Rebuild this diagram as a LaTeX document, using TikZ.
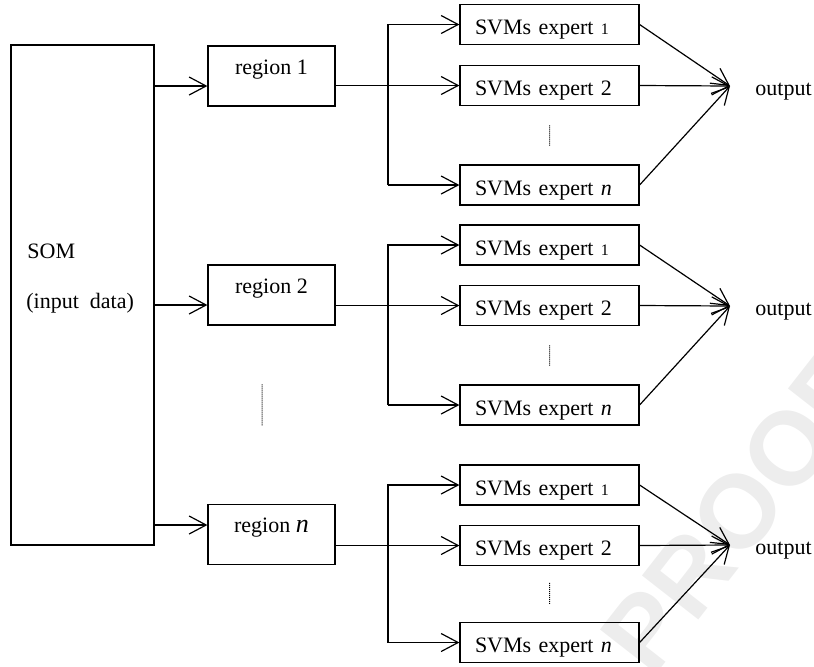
\documentclass[tikz,border=0pt]{standalone}
\usepackage{fontspec}
\setmainfont{Liberation Serif}
\newfontfamily\wmfont{Liberation Sans}
\usetikzlibrary{arrows.meta,positioning,calc}

\begin{document}
\begin{tikzpicture}[
  x=0.5pt, y=-0.5pt,
  font=\fontsize{11}{13}\selectfont,
  blk/.style={draw, line width=0.6pt, inner sep=0pt},
  region/.style={blk, minimum width=63.5pt, minimum height=30pt,
    text height=2pt, text depth=4pt},
  expert/.style={blk, minimum height=20pt, text width=74.5pt,
    inner xsep=7.5pt, align=left, text height=10pt, text depth=0pt},
  lbl/.style={anchor=base west, inner sep=0pt},
  arr/.style={-{Straight Barb[length=8.5pt, width=9pt]}, line width=0.6pt},
  vdots/.style={line width=0.5pt, dash pattern=on 0.5pt off 0.5pt},
  wmark/.style={font=\wmfont\bfseries\fontsize{52}{52}\selectfont,
    text=black!7, rotate=52, anchor=base west, inner sep=0pt}
]
\clip (0,0) rectangle (814,666);
\node[wmark] (proof) at (652,680) {PROOF};

% SOM block
\node[blk, minimum width=71.5pt, minimum height=250pt] (som) at (82.5,295) {};
\node[lbl] (somname) at (27,258) {SOM};
\node[lbl] (somdata) at (26,308) {(input~~data)};

% regions
\node[region] (reg1) at (271.5,76) {region 1};
\node[region] (reg2) at (271.5,295) {region 2};
\node[region] (regn) at (271.5,534.5) {region {\fontsize{13}{13}\selectfont\textit{n}}};

% experts
\node[expert] (ex11) at (549.5,24.5) {SVMs expert {\fontsize{8}{8}\selectfont 1}};
\node[expert] (ex12) at (549.5,85.5) {SVMs expert 2};
\node[expert] (ex1n) at (549.5,185) {SVMs expert \textit{n}};
\node[expert] (ex21) at (549.5,245) {SVMs expert {\fontsize{8}{8}\selectfont 1}};
\node[expert] (ex22) at (549.5,305.5) {SVMs expert 2};
\node[expert] (ex2n) at (549.5,405) {SVMs expert \textit{n}};
\node[expert] (exn1) at (549.5,485) {SVMs expert {\fontsize{8}{8}\selectfont 1}};
\node[expert] (exn2) at (549.5,545.5) {SVMs expert 2};
\node[expert] (exnn) at (549.5,642.5) {SVMs expert \textit{n}};

% outputs
\coordinate (cv1) at (730,86);
\coordinate (cv2) at (730,306);
\coordinate (cvn) at (730,545);
\node[lbl] (out1) at (755,95) {output};
\node[lbl] (out2) at (755,315) {output};
\node[lbl] (outn) at (755,554) {output};

% SOM to regions
\coordinate (in1) at ([yshift=-5pt]reg1.west);
\coordinate (in2) at ([yshift=-5pt]reg2.west);
\coordinate (inn) at ([yshift=4.75pt]regn.west);
\draw[arr] (som.east |- in1) -- (in1);
\draw[arr] (som.east |- in2) -- (in2);
\draw[arr] (som.east |- inn) -- (inn);

% regions to experts
\coordinate (bus) at (388,0);
\draw[arr] (reg1.east |- ex12.west) -- (ex12.west);
\draw[arr] (bus |- ex1n.west) |- (ex11.west);
\draw[arr] (bus |- ex1n.west) -- (ex1n.west);
\draw[arr] (reg2.east |- ex22.west) -- (ex22.west);
\draw[arr] (bus |- ex2n.west) |- (ex21.west);
\draw[arr] (bus |- ex2n.west) -- (ex2n.west);
\draw[arr] (regn.east |- exn2.west) -- (exn2.west);
\draw[arr] (bus |- exnn.west) |- (exn1.west);
\draw[arr] (bus |- exnn.west) -- (exnn.west);

% experts to output
\draw[arr] (ex11.east) -- (cv1);
\draw[arr] (ex12.east) -- (cv1);
\draw[arr] (ex1n.east) -- (cv1);
\draw[arr] (ex21.east) -- (cv2);
\draw[arr] (ex22.east) -- (cv2);
\draw[arr] (ex2n.east) -- (cv2);
\draw[arr] (exn1.east) -- (cvn);
\draw[arr] (exn2.east) -- (cvn);
\draw[arr] (exnn.east) -- (cvn);

% dots
\draw[vdots] ($(ex12.south)!0.33!(ex1n.north)$) -- ($(ex12.south)!0.68!(ex1n.north)$);
\draw[vdots] ($(ex22.south)!0.33!(ex2n.north)$) -- ($(ex22.south)!0.68!(ex2n.north)$);
\draw[vdots] ($(exn2.south)!0.30!(exnn.north)$) -- ($(exn2.south)!0.69!(exnn.north)$);
\draw[vdots] ($(reg2.south)!0.33!(regn.north)+(-4.75pt,0)$)
  -- ($(reg2.south)!0.56!(regn.north)+(-4.75pt,0)$);
\end{tikzpicture}
\end{document}
